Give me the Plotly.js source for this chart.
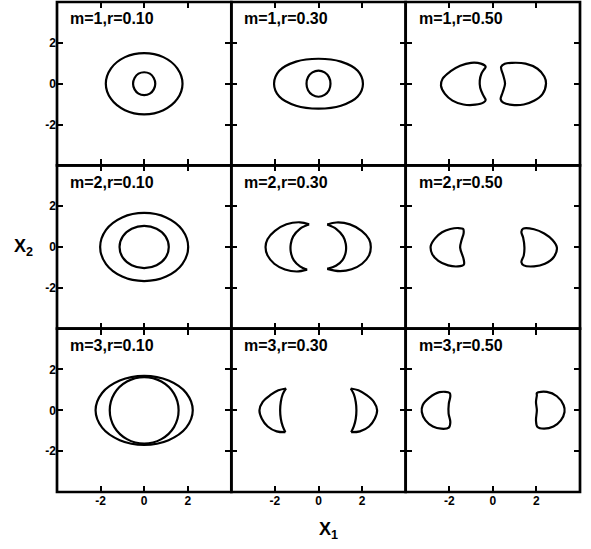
<!DOCTYPE html>
<html>
<head>
<meta charset="utf-8">
<script src="https://cdn.plot.ly/plotly-3.0.1.min.js"></script>
<style>
  html, body { margin: 0; padding: 0; background: #fff; }
  #chart { width: 591px; height: 549px; }
</style>
</head>
<body>
<div id="chart"></div>
<script>
// Level curves in the (X1, X2) plane for m = 1..3 and r = 0.10, 0.30, 0.50.
const panelLabels = [
  'm=1,r=0.10', 'm=1,r=0.30', 'm=1,r=0.50',
  'm=2,r=0.10', 'm=2,r=0.30', 'm=2,r=0.50',
  'm=3,r=0.10', 'm=3,r=0.30', 'm=3,r=0.50'
];
const tickValues = [-2, 0, 2];
const tickLabels = ['-2', '0', '2'];
const axisRange = [-4, 4];

// m=1, r=0.10
const m1r10OuterX = [1.76, 1.52, 0.88, 0, -0.88, -1.52, -1.76, -1.52, -0.88, 0, 0.88, 1.52, 1.76];
const m1r10OuterY = [0, 0.75, 1.30, 1.50, 1.30, 0.75, 0, -0.75, -1.30, -1.50, -1.30, -0.75, 0];
const m1r10InnerX = [0.51, 0.44, 0.26, 0, -0.26, -0.44, -0.51, -0.44, -0.26, 0, 0.26, 0.44, 0.51];
const m1r10InnerY = [0, 0.28, 0.49, 0.56, 0.49, 0.28, 0, -0.28, -0.49, -0.56, -0.49, -0.28, 0];

// m=1, r=0.30
const m1r30OuterX = [2.04, 1.80, 1.03, 0, -1.03, -1.80, -2.04, -1.80, -1.03, 0, 1.03, 1.80, 2.04];
const m1r30OuterY = [0, 0.63, 1.08, 1.22, 1.08, 0.63, 0, -0.63, -1.08, -1.22, -1.08, -0.63, 0];
const m1r30InnerX = [0.55, 0.48, 0.28, 0, -0.28, -0.48, -0.55, -0.48, -0.28, 0, 0.28, 0.48, 0.55];
const m1r30InnerY = [0, 0.32, 0.55, 0.64, 0.55, 0.32, 0, -0.32, -0.55, -0.64, -0.55, -0.32, 0];

// m=1, r=0.50
const m1r50LeftX = [-0.33, -0.55, -1.00, -1.50, -1.95, -2.30, -2.38, -2.20, -1.85, -1.35, -0.80, -0.42, -0.33, -0.45, -0.58, -0.60, -0.52, -0.40, -0.33];
const m1r50LeftY = [0.83, 0.98, 1.02, 0.88, 0.60, 0.25, -0.10, -0.50, -0.83, -1.02, -1.03, -0.92, -0.80, -0.55, -0.20, 0.15, 0.50, 0.70, 0.83];
const m1r50RightX = [0.38, 0.55, 0.88, 1.50, 2.05, 2.36, 2.44, 2.28, 1.89, 1.42, 0.88, 0.48, 0.36, 0.45, 0.56, 0.48, 0.38];
const m1r50RightY = [0.82, 0.97, 1.02, 0.98, 0.73, 0.35, 0, -0.51, -0.84, -1.02, -1.04, -0.93, -0.76, -0.43, 0, 0.40, 0.82];

// m=2, r=0.10
const m2r10OuterX = [2.02, 1.75, 1.01, 0, -1.01, -1.75, -2.02, -1.75, -1.01, 0, 1.01, 1.75, 2.02];
const m2r10OuterY = [0, 0.84, 1.45, 1.67, 1.45, 0.84, 0, -0.84, -1.45, -1.67, -1.45, -0.84, 0];
const m2r10InnerX = [1.13, 0.98, 0.57, 0, -0.57, -0.98, -1.13, -0.98, -0.57, 0, 0.57, 0.98, 1.13];
const m2r10InnerY = [0, 0.52, 0.89, 1.03, 0.89, 0.52, 0, -0.52, -0.89, -1.03, -0.89, -0.52, 0];

// m=2, r=0.30 (crescents: outer arc and inner arc, tip to tip)
const m2r30LeftOuterX = [-0.43, -0.85, -1.47, -2.00, -2.34, -2.43, -2.34, -2.03, -1.54, -1.00, -0.52];
const m2r30LeftOuterY = [1.11, 1.21, 1.11, 0.79, 0.38, 0, -0.41, -0.82, -1.10, -1.20, -1.11];
const m2r30LeftInnerX = [-0.52, -0.85, -1.13, -1.27, -1.27, -1.16, -0.85, -0.43];
const m2r30LeftInnerY = [-1.11, -0.95, -0.66, -0.25, 0.16, 0.52, 0.89, 1.11];
const m2r30RightOuterX = [0.40, 0.82, 1.44, 1.98, 2.32, 2.40, 2.32, 2.00, 1.52, 0.98, 0.40];
const m2r30RightOuterY = [1.10, 1.20, 1.11, 0.79, 0.38, 0, -0.41, -0.82, -1.09, -1.18, -1.07];
const m2r30RightInnerX = [0.40, 0.80, 1.10, 1.25, 1.25, 1.13, 0.82, 0.40];
const m2r30RightInnerY = [-1.07, -0.92, -0.64, -0.25, 0.16, 0.52, 0.88, 1.10];

// m=2, r=0.50
const m2r50LeftX = [-1.36, -1.60, -1.95, -2.33, -2.65, -2.85, -2.78, -2.50, -2.05, -1.60, -1.33, -1.34, -1.50, -1.43, -1.34, -1.36];
const m2r50LeftY = [0.88, 0.93, 0.88, 0.72, 0.42, 0.05, -0.35, -0.68, -0.90, -0.95, -0.86, -0.60, -0.03, 0.35, 0.68, 0.88];
const m2r50RightX = [1.39, 1.89, 2.36, 2.75, 2.94, 2.80, 2.39, 1.89, 1.42, 1.31, 1.42, 1.45, 1.39, 1.31, 1.39];
const m2r50RightY = [0.90, 0.87, 0.66, 0.33, -0.03, -0.49, -0.82, -0.95, -0.90, -0.74, -0.41, -0.03, 0.46, 0.74, 0.90];

// m=3, r=0.10
const m3r10OuterX = [2.23, 1.93, 1.12, 0, -1.12, -1.93, -2.23, -1.93, -1.12, 0, 1.12, 1.93, 2.23];
const m3r10OuterY = [0, 0.85, 1.46, 1.69, 1.46, 0.85, 0, -0.85, -1.46, -1.69, -1.46, -0.85, 0];
const m3r10InnerX = [1.58, 1.37, 0.79, 0, -0.79, -1.37, -1.58, -1.37, -0.79, 0, 0.79, 1.37, 1.58];
const m3r10InnerY = [0, 0.82, 1.41, 1.63, 1.41, 0.82, 0, -0.82, -1.41, -1.63, -1.41, -0.82, 0];

// m=3, r=0.30 (crescents)
const m3r30LeftOuterX = [-1.49, -1.84, -2.22, -2.56, -2.71, -2.60, -2.33, -1.92, -1.52];
const m3r30LeftOuterY = [1.07, 0.98, 0.74, 0.41, 0, -0.41, -0.79, -1.03, -1.07];
const m3r30LeftInnerX = [-1.52, -1.64, -1.73, -1.76, -1.73, -1.64, -1.49];
const m3r30LeftInnerY = [-1.07, -0.79, -0.41, 0, 0.41, 0.79, 1.07];
const m3r30RightOuterX = [1.48, 1.83, 2.21, 2.54, 2.69, 2.58, 2.32, 1.90, 1.50];
const m3r30RightOuterY = [1.07, 0.98, 0.74, 0.41, 0, -0.41, -0.79, -1.03, -1.07];
const m3r30RightInnerX = [1.50, 1.62, 1.71, 1.74, 1.71, 1.62, 1.48];
const m3r30RightInnerY = [-1.07, -0.79, -0.41, 0, 0.41, 0.79, 1.07];

// m=3, r=0.50
const m3r50LeftX = [-1.98, -2.45, -2.91, -3.22, -3.26, -3.09, -2.75, -2.37, -2.02, -1.95, -2.03, -2.02, -1.95, -1.98];
const m3r50LeftY = [0.85, 0.89, 0.62, 0.25, -0.08, -0.49, -0.79, -0.90, -0.85, -0.57, -0.16, 0.33, 0.69, 0.85];
const m3r50RightX = [2.02, 2.48, 2.94, 3.25, 3.29, 3.12, 2.78, 2.35, 2.05, 1.98, 2.02, 1.98, 2.02, 2.02];
const m3r50RightY = [0.85, 0.90, 0.69, 0.25, -0.08, -0.49, -0.79, -0.90, -0.82, -0.49, 0, 0.41, 0.74, 0.85];

// Which subplot (0..8, row-major) each curve belongs to.
const curves = [
  [0, m1r10OuterX, m1r10OuterY], [0, m1r10InnerX, m1r10InnerY],
  [1, m1r30OuterX, m1r30OuterY], [1, m1r30InnerX, m1r30InnerY],
  [2, m1r50LeftX, m1r50LeftY], [2, m1r50RightX, m1r50RightY],
  [3, m2r10OuterX, m2r10OuterY], [3, m2r10InnerX, m2r10InnerY],
  [4, m2r30LeftOuterX, m2r30LeftOuterY], [4, m2r30LeftInnerX, m2r30LeftInnerY],
  [4, m2r30RightOuterX, m2r30RightOuterY], [4, m2r30RightInnerX, m2r30RightInnerY],
  [5, m2r50LeftX, m2r50LeftY], [5, m2r50RightX, m2r50RightY],
  [6, m3r10OuterX, m3r10OuterY], [6, m3r10InnerX, m3r10InnerY],
  [7, m3r30LeftOuterX, m3r30LeftOuterY], [7, m3r30LeftInnerX, m3r30LeftInnerY],
  [7, m3r30RightOuterX, m3r30RightOuterY], [7, m3r30RightInnerX, m3r30RightInnerY],
  [8, m3r50LeftX, m3r50LeftY], [8, m3r50RightX, m3r50RightY]
];

const FONT = 'Liberation Sans, Arial, Helvetica, sans-serif';
const suffix = k => (k === 0 ? '' : String(k + 1));

const traces = curves.map(([k, xs, ys]) => ({
  type: 'scatter',
  mode: 'lines',
  x: xs,
  y: ys,
  xaxis: 'x' + suffix(k),
  yaxis: 'y' + suffix(k),
  line: { color: '#000', width: 2.2, shape: 'spline', smoothing: 1, simplify: false },
  hoverinfo: 'skip',
  showlegend: false
}));

const layout = {
  width: 591,
  height: 549,
  margin: { l: 57, r: 11, t: 2, b: 57 },
  paper_bgcolor: '#fff',
  plot_bgcolor: '#fff',
  font: { family: FONT, color: '#000' },
  showlegend: false,
  annotations: [],
  shapes: []
};

for (let k = 0; k < 9; k++) {
  const row = Math.floor(k / 3);
  const col = k % 3;
  const s = suffix(k);
  const common = {
    range: axisRange,
    tickmode: 'array',
    tickvals: tickValues,
    ticktext: tickLabels,
    ticks: 'inside',
    ticklen: 6,
    tickwidth: 2,
    tickcolor: '#000',
    showline: false,
    mirror: 'ticks',
    showgrid: false,
    zeroline: false,
    fixedrange: true,
    tickfont: { family: FONT, size: 12, weight: 'bold', color: '#000' }
  };
  layout['xaxis' + s] = Object.assign({}, common, {
    domain: [col / 3, (col + 1) / 3],
    anchor: 'y' + s,
    showticklabels: row === 2
  });
  layout['yaxis' + s] = Object.assign({}, common, {
    domain: [(2 - row) / 3, (3 - row) / 3],
    anchor: 'x' + s,
    showticklabels: col === 0
  });
  // Panel frame drawn on the domain edges so shared borders coincide
  layout.shapes.push({
    type: 'rect',
    xref: 'x' + s + ' domain',
    yref: 'y' + s + ' domain',
    x0: 0, x1: 1, y0: 0, y1: 1,
    line: { color: '#000', width: 2.7 },
    fillcolor: 'rgba(0,0,0,0)',
    layer: 'above'
  });
  layout.annotations.push({
    text: panelLabels[k],
    xref: 'x' + s + ' domain',
    yref: 'y' + s + ' domain',
    x: 0.063,
    y: 0.896,
    xanchor: 'left',
    yanchor: 'middle',
    showarrow: false,
    font: { family: FONT, size: 16, weight: 'bold', color: '#000' }
  });
}

// Shared axis titles
layout.annotations.push({
  text: 'X<sub>1</sub>',
  xref: 'paper', yref: 'paper',
  x: 0.52, y: -0.078,
  xanchor: 'center', yanchor: 'middle',
  showarrow: false,
  font: { family: FONT, size: 18, weight: 'bold', color: '#000' }
});
layout.annotations.push({
  text: 'X<sub>2</sub>',
  xref: 'paper', yref: 'paper',
  x: -0.065, y: 0.5,
  xanchor: 'center', yanchor: 'middle',
  showarrow: false,
  font: { family: FONT, size: 18, weight: 'bold', color: '#000' }
});

Plotly.newPlot('chart', traces, layout, { staticPlot: true, displayModeBar: false });
</script>
</body>
</html>
